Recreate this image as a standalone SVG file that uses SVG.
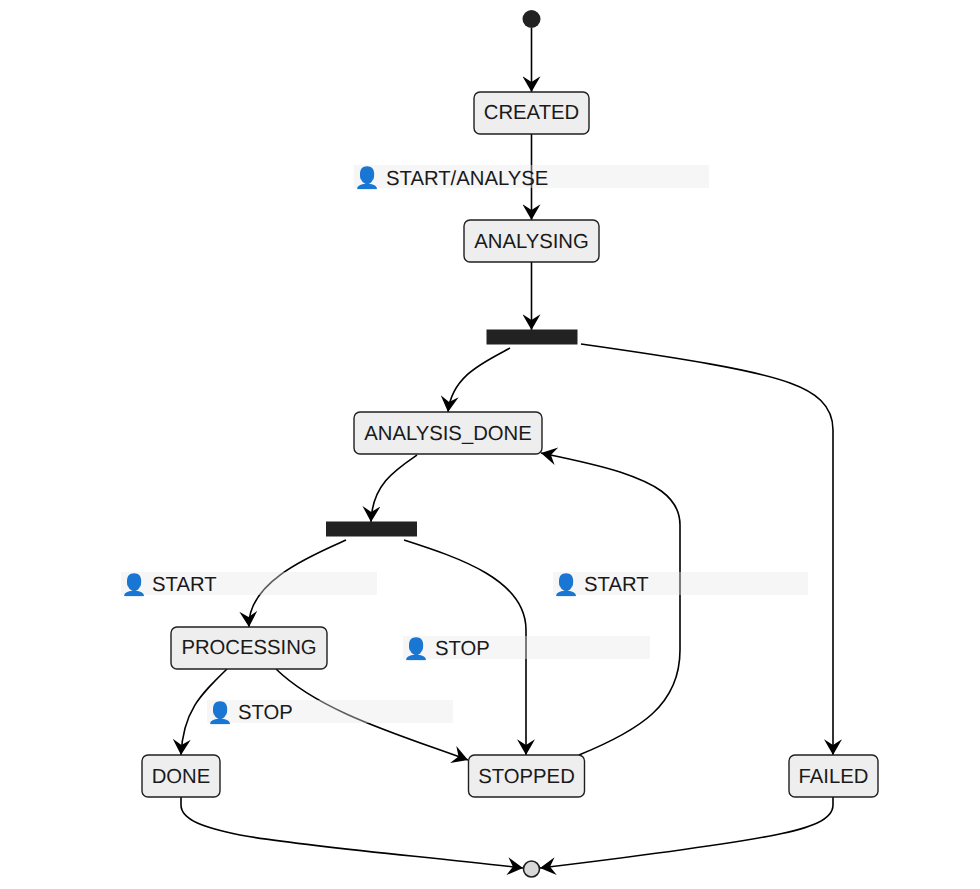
<svg xmlns="http://www.w3.org/2000/svg" width="980" height="889" viewBox="0 0 980 889">
<style>
.st{fill:#eee;stroke:#1f1f1f;stroke-width:1.4}
.t{font-family:"Liberation Sans",Arial,sans-serif;font-size:20.3px;fill:#1a1a1a;text-rendering:geometricPrecision}
.m{text-anchor:middle}
.bar{fill:#222;stroke:#222}
.e{fill:none;stroke:#000;stroke-width:1.6;marker-end:url(#a)}
.lb{fill:#e8e8e8;fill-opacity:.4}
.ic{fill:#1976d2;font-family:"Noto Sans","DejaVu Sans",sans-serif;font-size:21px}
</style>
<defs>
<marker id="a" markerUnits="userSpaceOnUse" markerWidth="18" markerHeight="18" refX="15" refY="8" viewBox="0 0 16 16" orient="auto">
<path d="M1 0 15 8 1 16 6 8Z" fill="#000"/>
</marker>
</defs>
<rect width="980" height="889" fill="#fff"/>
<g id="connectors">
<path class="e" d="M531.5 28V92"/>
<path class="e" d="M531.5 134V220"/>
<path class="e" d="M531.5 262V330"/>
<path class="e" d="M510 348C485 362 452 375 448 412"/>
<path class="e" d="M581 344C680 358 755 370 790 383C815 392 833 405 833 430V755"/>
<path class="e" d="M417 455C395 470 372 485 371 522"/>
<path class="e" d="M346 540C310 556 247 582 249 627"/>
<path class="e" d="M404 540C460 558 526 580 526 630V755"/>
<path class="e" d="M227 669C200 695 183 712 181 755"/>
<path class="e" d="M276 669C320 712 400 735 468 760"/>
<path class="e" d="M579 755C640 730 680 705 680 650V525C680 495 650 482 620 472C595 464 570 459 541 453"/>
<path class="e" d="M181 797V805C181 820 205 828 240 835C300 846 420 856 523 868"/>
<path class="e" d="M833 797V805C833 820 810 828 775 835C715 846 640 856 540 868"/>
</g>
<g id="start"><circle cx="531.5" cy="19" r="9" fill="#222"/></g>
<g id="created"><rect class="st" x="474" y="92" width="115" height="42" rx="6"/><text class="t m" x="531.5" y="119">CREATED</text></g>
<g id="analysing"><rect class="st" x="464" y="220" width="135" height="42" rx="6"/><text class="t m" x="531.5" y="248">ANALYSING</text></g>
<g id="fork1"><rect class="bar" x="487" y="330" width="90" height="14"/></g>
<g id="analysis_done"><rect class="st" x="354" y="412" width="188" height="42" rx="6"/><text class="t m" x="448" y="440">ANALYSIS_DONE</text></g>
<g id="fork2"><rect class="bar" x="326.500" y="522" width="90" height="14"/></g>
<g id="processing"><rect class="st" x="171" y="627" width="156" height="42" rx="6"/><text class="t m" x="249" y="654">PROCESSING</text></g>
<g id="done"><rect class="st" x="142" y="755" width="78" height="42" rx="6"/><text class="t m" x="181" y="782.500">DONE</text></g>
<g id="stopped"><rect class="st" x="468.500" y="755" width="116" height="42" rx="6"/><text class="t m" x="526.500" y="782.500">STOPPED</text></g>
<g id="failed"><rect class="st" x="789" y="755" width="89" height="42" rx="6"/><text class="t m" x="833.500" y="782.500">FAILED</text></g>
<g id="end"><circle cx="531.500" cy="869" r="8" fill="#d8d8d8" stroke="#1f1f1f" stroke-width="1.600"/></g>
<g id="label-start-analyse"><rect class="lb" x="354" y="165" width="355" height="23"/><text class="ic" x="354" y="185">👤</text><text class="t" x="386" y="184.500">START/ANALYSE</text></g>
<g id="label-start-1"><rect class="lb" x="121" y="572" width="256" height="23"/><text class="ic" x="121" y="592">👤</text><text class="t" x="152" y="591">START</text></g>
<g id="label-stop-1"><rect class="lb" x="403" y="636" width="247" height="23"/><text class="ic" x="403" y="656">👤</text><text class="t" x="435" y="655">STOP</text></g>
<g id="label-stop-2"><rect class="lb" x="207" y="700" width="246" height="23"/><text class="ic" x="206.500" y="720">👤</text><text class="t" x="238" y="719">STOP</text></g>
<g id="label-start-2"><rect class="lb" x="553" y="572" width="255" height="23"/><text class="ic" x="552.500" y="592">👤</text><text class="t" x="584" y="591">START</text></g>
</svg>
